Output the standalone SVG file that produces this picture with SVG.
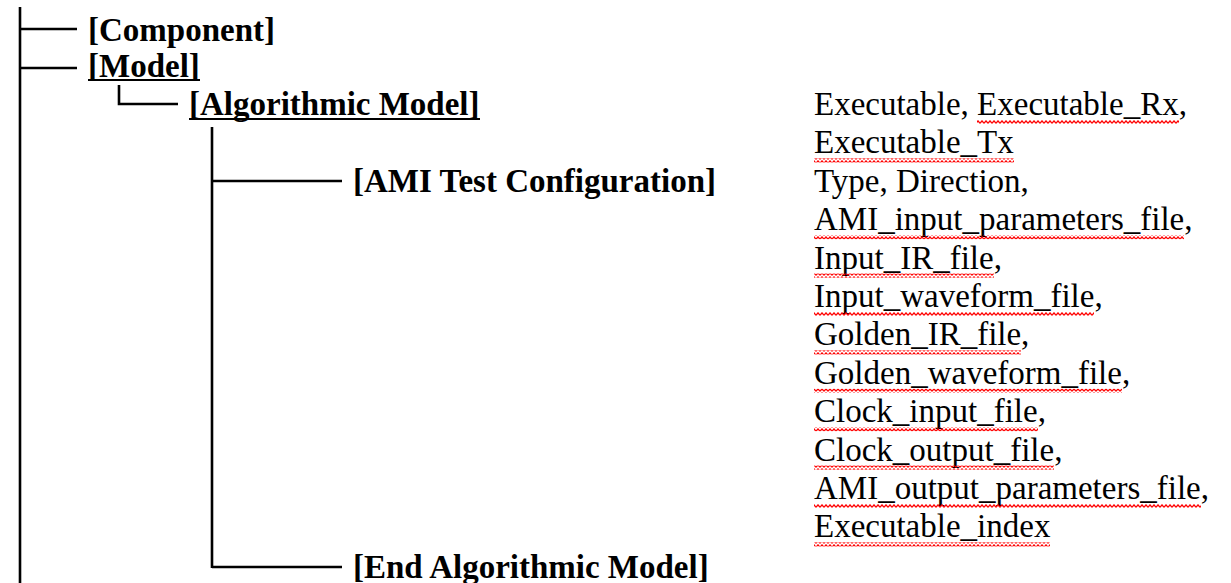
<svg xmlns="http://www.w3.org/2000/svg" width="1231" height="583" viewBox="0 0 1231 583">
<style>
  .b { font-family: "Liberation Serif", "Times New Roman", serif; font-weight: bold; font-size: 33px; fill: #000; }
  .r { font-family: "Liberation Serif", "Times New Roman", serif; font-size: 33px; fill: #000; }
  .ln { stroke: #000; stroke-width: 2.6; fill: none; }
  .ul { fill: #000; }
  .wv { fill: url(#wave); }
</style>
<defs>
  <pattern id="wave" patternUnits="userSpaceOnUse" x="0" y="0" width="4" height="4">
    <path d="M0,3.3 L2,0.9 L4,3.3" stroke="#ff0000" stroke-width="1.3" fill="none"/>
  </pattern>
</defs>
<rect width="1231" height="583" fill="#fff"/>
<g id="connectors">
  <line class="ln" x1="20" y1="7" x2="20" y2="583"/>
  <line class="ln" x1="20" y1="29" x2="77" y2="29"/>
  <line class="ln" x1="20" y1="68" x2="77" y2="68"/>
  <polyline class="ln" points="119,85 119,104 178,104"/>
  <line class="ln" x1="212" y1="127" x2="212" y2="568"/>
  <line class="ln" x1="212" y1="181" x2="342" y2="181"/>
  <line class="ln" x1="212" y1="567" x2="342" y2="567"/>
</g>
<g id="component"><text class="b" x="88" y="41">[Component]</text></g>
<g id="model"><text class="b" x="88" y="77">[Model]</text><rect class="ul" x="88" y="79" width="112" height="2"/></g>
<g id="algorithmic-model"><text class="b" x="189" y="115">[Algorithmic Model]</text><rect class="ul" x="189" y="118" width="291" height="2"/></g>
<g id="ami-test-configuration"><text class="b" x="353" y="192">[AMI Test Configuration]</text></g>
<g id="end-algorithmic-model"><text class="b" x="353" y="578">[End Algorithmic Model]</text></g>
<g id="keywords">
  <text class="r" x="814" y="115">Executable, Executable_Rx,</text>
  <text class="r" x="814" y="153.4">Executable_Tx</text>
  <text class="r" x="814" y="191.8">Type, Direction,</text>
  <text class="r" x="814" y="230.2">AMI_input_parameters_file,</text>
  <text class="r" x="814" y="268.6">Input_IR_file,</text>
  <text class="r" x="814" y="307">Input_waveform_file,</text>
  <text class="r" x="814" y="345.4">Golden_IR_file,</text>
  <text class="r" x="814" y="383.8">Golden_waveform_file,</text>
  <text class="r" x="814" y="422.2">Clock_input_file,</text>
  <text class="r" x="814" y="460.6">Clock_output_file,</text>
  <text class="r" x="814" y="499">AMI_output_parameters_file,</text>
  <text class="r" x="814" y="537.4">Executable_index</text>
  <rect class="wv" x="977" y="120" width="202" height="4"/>
  <rect class="wv" x="814" y="158.4" width="200" height="4"/>
  <rect class="wv" x="814" y="235.2" width="370" height="4"/>
  <rect class="wv" x="814" y="273.6" width="180" height="4"/>
  <rect class="wv" x="814" y="312" width="280" height="4"/>
  <rect class="wv" x="814" y="350.4" width="207" height="4"/>
  <rect class="wv" x="814" y="388.8" width="308" height="4"/>
  <rect class="wv" x="814" y="427.2" width="224" height="4"/>
  <rect class="wv" x="814" y="465.6" width="240" height="4"/>
  <rect class="wv" x="814" y="504" width="387" height="4"/>
  <rect class="wv" x="814" y="542.4" width="236" height="4"/>
</g>
</svg>
